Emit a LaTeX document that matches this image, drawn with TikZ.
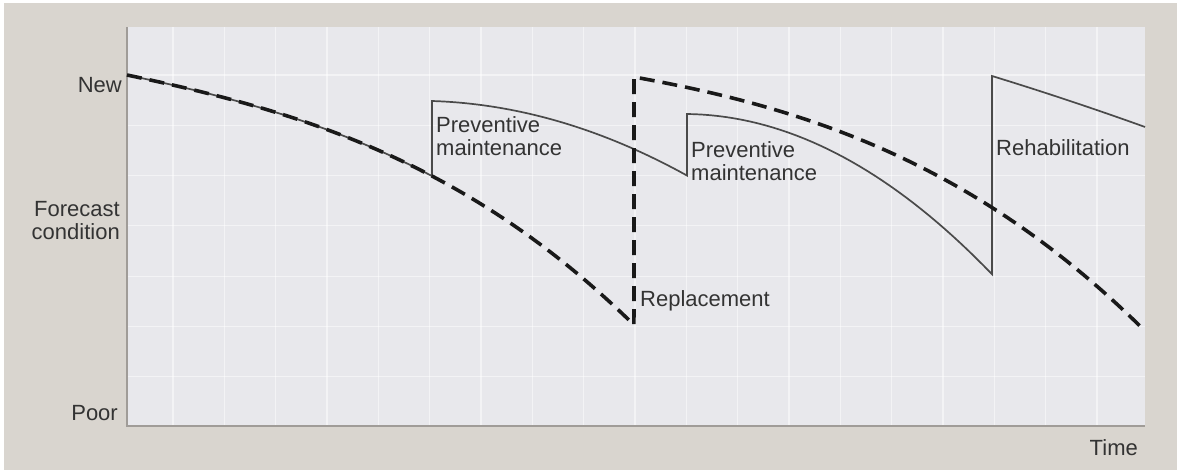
\documentclass[tikz,border=0pt]{standalone}
\usepackage{fontspec}
\setmainfont{Liberation Sans}
\usetikzlibrary{positioning}
\definecolor{frameback}{HTML}{D9D5CF}
\definecolor{plotback}{HTML}{E8E8EC}
\definecolor{axisgray}{HTML}{A09C98}
\definecolor{labelgray}{HTML}{333333}
\definecolor{curvegray}{HTML}{4A4A4A}

\begin{document}
\begin{tikzpicture}[x=1pt, y=-1pt,
    label/.style={inner sep=0pt, text=labelgray, font=\fontsize{22}{23.5}\selectfont},
    gridline/.style={white, line width=1.2pt, opacity=0.5},
    condline/.style={curvegray, line width=1.7pt, line join=miter},
    forecastline/.style={black!90, line width=3.6pt, dash pattern=on 15pt off 8pt}]
    \useasboundingbox (0,0) rectangle (1181,473);
    \fill[white] (0,0) rectangle (1181,473);
    \fill[frameback] (4,3) rectangle (1177,470);
    \fill[plotback] (127,27) rectangle (1145,425);

    \foreach \k in {0,...,18}
        \draw[gridline] ({173+51.33*\k},27) -- ({173+51.33*\k},425);
    \foreach \k in {0,...,6}
        \draw[gridline] (127,{75+50.3*\k}) -- (1145,{75+50.3*\k});

    \draw[axisgray, line width=2pt] (127,27) -- (127,426) -- (1145,426);

    \node[label, anchor=base east] (new) at (122,93) {New};
    \node[label, anchor=north east, align=right] (cond) at (120,201) {Forecast\\condition};
    \node[label, anchor=base east] (poor) at (118,420) {Poor};
    \node[label, anchor=base east] (time) at (1138,455) {Time};

    \draw[condline]
        plot[domain=0:3.05, variable=\s, samples=40] ({127+100*\s}, {75+21.08*\s+1.51*\s^2+0.8*\s^3})
        -- plot[domain=0:2.55, variable=\s, samples=40] ({432+100*\s}, {101+3.15*\s+10.23*\s^2})
        -- plot[domain=0:3.05, variable=\s, samples=40] ({687+100*\s}, {114+1.3*\s+16.8*\s^2})
        -- plot[domain=0:1.53, variable=\s, samples=20] ({992+100*\s}, {76+30.7*\s+1.71*\s^2});

    \draw[forecastline]
        plot[domain=0:5.07, variable=\s, samples=60] ({127+100*\s}, {75+21.08*\s+1.51*\s^2+0.8*\s^3})
        -- plot[domain=0:5.10, variable=\s, samples=60] ({634+100*\s}, {77+18.04*\s+2.69*\s^2+0.686*\s^3});

    \node[label, anchor=north west, align=left] (pm1) at (436,116) {Preventive\\maintenance};
    \node[label, anchor=north west, align=left] (pm2) at (691,141) {Preventive\\maintenance};
    \node[label, anchor=north west] (repl) at (640,290) {Replacement};
    \node[label, anchor=north west] (rehab) at (996,139) {Rehabilitation};
\end{tikzpicture}
\end{document}
